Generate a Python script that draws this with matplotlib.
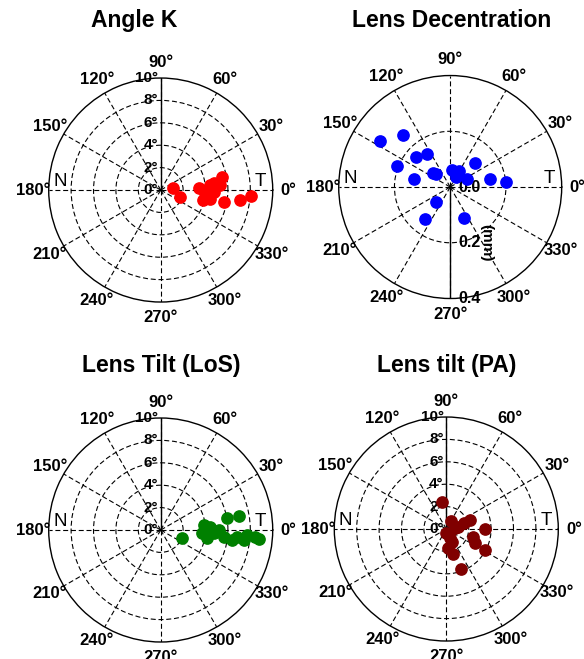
import numpy as np
import matplotlib.pyplot as plt

plt.rcParams['font.family'] = ['Liberation Sans', 'DejaVu Sans']

# Angle K (degrees of angle, polar angle in degrees)
angk_theta = [8, 339, 2.5, 356, 5.8, 7.2, 12.3, 4.8, 347, 350, 358, 349.5, 353, 356]
angk_r = [1.08, 1.85, 3.46, 3.98, 4.44, 4.76, 5.59, 5.33, 3.92, 4.48, 4.72, 5.71, 7.15, 8.11]

# Lens decentration (mm)
dec_theta = [146.4, 132.1, 138.5, 124.6, 157.9, 167.4, 141.2, 137.4, 82.4, 61.1,
             61.6, 26.2, 44.7, 11.6, 5.4, 225.5, 231.8, 293.4]
dec_r = [0.301, 0.252, 0.162, 0.145, 0.205, 0.133, 0.078, 0.068, 0.061, 0.066,
         0.042, 0.066, 0.125, 0.144, 0.202, 0.074, 0.144, 0.123]

# Lens tilt, line of sight
los_theta = [338.3, 6.7, 3.9, 355.3, 349.7, 356.4, 0, 10.0, 10.2, 353.9, 352,
             355, 356.7, 356, 354.5, 353]
los_r = [2.02, 3.85, 4.43, 3.68, 4.19, 4.73, 5.16, 6.0, 7.07, 5.64, 6.42,
         6.84, 7.71, 8.47, 8.79, 7.45]

# Lens tilt, pupillary axis
pa_theta = [99.9, 60.8, 11, 17.5, 20.8, 4.5, 359.5, 261, 293, 274, 285.7,
            342.8, 333.5, 331.5, 290, 291]
pa_r = [2.42, 0.86, 1.09, 1.69, 2.27, 0.78, 3.46, 0.39, 1.23, 1.73, 2.33,
        2.53, 2.87, 3.94, 3.84, 0.9]

titles = ['Angle K', 'Lens Decentration', 'Lens Tilt (LoS)', 'Lens tilt (PA)']
theta_ticks = list(range(0, 360, 30))
theta_labels = [f'{a}\u00b0' for a in theta_ticks]
deg_rings = [2, 4, 6, 8]
deg_labels = [0, 2, 4, 6, 8, 10]
mm_rings = [0.2]
mm_labels = ['0.0', '0.2', '0.4']

dash = (0, (4.5, 2.5))

fig = plt.figure(figsize=(5.84, 6.59), dpi=100)

rects = [
    [0.0834, 0.5417, 0.3836, 0.3399],
    [0.5800, 0.5470, 0.3818, 0.3384],
    [0.0834, 0.0258, 0.3836, 0.3399],
    [0.5724, 0.0273, 0.3836, 0.3399],
]
title_pos = [(0.229, 0.969), (0.774, 0.969), (0.276, 0.446), (0.765, 0.446)]


def base_polar(rect, rmax, rings, solid_angle):
    ax = fig.add_axes(rect, projection='polar')
    ax.set_ylim(0, rmax)
    ax.set_thetagrids(theta_ticks, labels=theta_labels, fontsize=12, fontweight='bold')
    ax.tick_params(axis='x', pad=1)
    ax.set_rgrids(rings, labels=['' for _ in rings])
    ax.grid(True, color='black', linewidth=0.8, linestyle=dash)
    ax.spines['polar'].set_linewidth(1.0)
    ax.spines['polar'].set_color('black')
    # solid radial axis line
    ax.plot([np.radians(solid_angle)] * 2, [0, rmax], color='black', lw=1.0, zorder=2)
    ax.text(np.pi, 0.90 * rmax, 'N', ha='center', va='bottom', fontsize=13.5)
    ax.text(0, 0.89 * rmax, 'T', ha='center', va='bottom', fontsize=13.5)
    return ax


def deg_panel(rect, theta, r, color):
    ax = base_polar(rect, 10, deg_rings, 90)
    for v in deg_labels:
        ax.annotate(f'{v}\u00b0', xy=(np.pi / 2, v), xytext=(-2, 0),
                    textcoords='offset points', ha='right', va='center',
                    fontsize=11, fontweight='bold', annotation_clip=False)
    ax.scatter(np.radians(theta), r, s=66, color=color, zorder=3, clip_on=False)
    return ax


deg_panel(rects[0], angk_theta, angk_r, '#ff0000')

ax2 = base_polar(rects[1], 0.4, mm_rings, 270)
for lab in mm_labels:
    ax2.annotate(lab, xy=(3 * np.pi / 2, float(lab)), xytext=(6, 0),
                 textcoords='offset points', ha='left', va='center',
                 fontsize=11.5, fontweight='bold', annotation_clip=False)
ax2.annotate('(mm)', xy=(3 * np.pi / 2, 0.2), xytext=(26, 0),
             textcoords='offset points', ha='center', va='center', rotation=270,
             fontsize=11, fontweight='bold')
ax2.scatter(np.radians(dec_theta), dec_r, s=66, color='#0000ff', zorder=3, clip_on=False)

deg_panel(rects[2], los_theta, los_r, '#008000')
deg_panel(rects[3], pa_theta, pa_r, '#800000')

for (x, y), t in zip(title_pos, titles):
    fig.text(x, y, t, ha='center', va='center', fontsize=16.5, fontweight='bold')

fig.savefig('out.png', dpi=100)
